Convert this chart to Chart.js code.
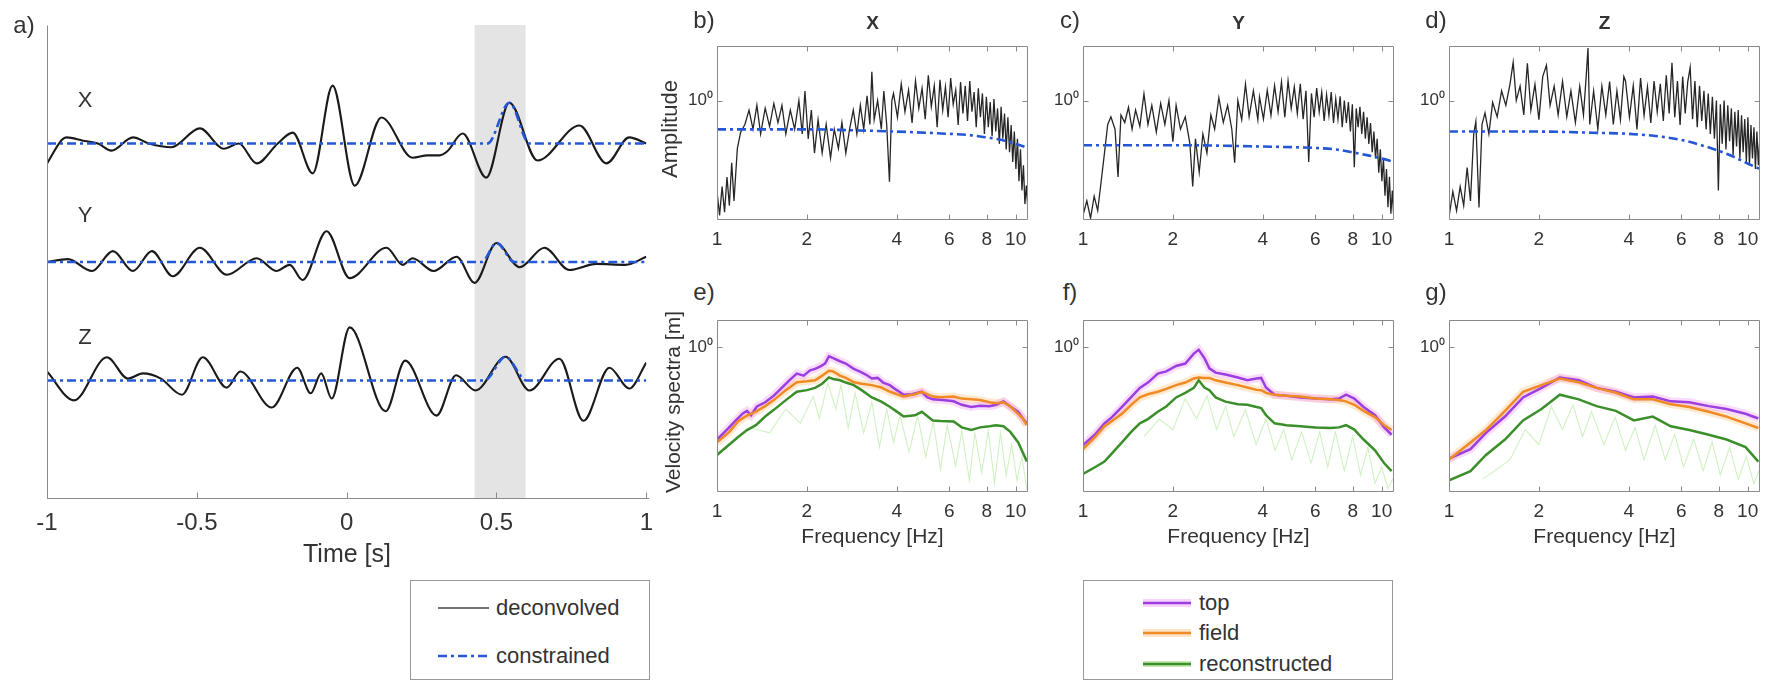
<!DOCTYPE html>
<html lang="en">
<head>
<meta charset="UTF-8">
<title>Deconvolved traces and spectra</title>
<script src="https://cdn.jsdelivr.net/npm/chart.js"></script>
<style>
  body { margin: 0; background: #fff; width: 1771px; height: 682px; position: relative; overflow: hidden;
         font-family: "Liberation Sans", Arial, Helvetica, sans-serif; color: #333; }
  canvas { position: absolute; }
  .lbl { position: absolute; white-space: nowrap; transform: translate(-50%, -50%); line-height: 1; }
  .legend { position: absolute; border: 1px solid #999; background: #fff; }
  .leg { position: absolute; transform: translateY(-50%); font-size: 22px; line-height: 1; white-space: nowrap; }
</style>
</head>
<body>

<div class="legend" style="left:410px;top:580px;width:238px;height:98px">
  <svg width="238" height="98" style="position:absolute;left:0;top:0">
    <line x1="27" y1="27" x2="78" y2="27" stroke="#444" stroke-width="1.5"/>
    <line x1="27" y1="75" x2="78" y2="75" stroke="#2457d6" stroke-width="2.6" stroke-dasharray="9 4 3 4"/>
  </svg>
  <span class="leg" style="left:85px;top:27px">deconvolved</span>
  <span class="leg" style="left:85px;top:75px">constrained</span>
</div>

<div class="legend" style="left:1083px;top:580px;width:308px;height:98px">
  <svg width="308" height="98" style="position:absolute;left:0;top:0">
    <line x1="59" y1="22" x2="107" y2="22" stroke="rgba(235,130,245,0.35)" stroke-width="8"/>
    <line x1="59" y1="22" x2="107" y2="22" stroke="#9b3fe0" stroke-width="2.5"/>
    <line x1="59" y1="52" x2="107" y2="52" stroke="rgba(255,175,90,0.35)" stroke-width="8"/>
    <line x1="59" y1="52" x2="107" y2="52" stroke="#f08a24" stroke-width="2.5"/>
    <line x1="59" y1="83" x2="107" y2="83" stroke="rgba(130,215,90,0.45)" stroke-width="6"/>
    <line x1="59" y1="83" x2="107" y2="83" stroke="#3b8f2a" stroke-width="2.5"/>
  </svg>
  <span class="leg" style="left:115px;top:22px">top</span>
  <span class="leg" style="left:115px;top:52px">field</span>
  <span class="leg" style="left:115px;top:83px">reconstructed</span>
</div>

<script>
// ---- panel a: time traces (amplitude relative to each trace's baseline) ----
const TIME_TICKS = [-1, -0.5, 0, 0.5, 1];
const BAND = [0.427, 0.597];
const X_BASE = 7.5, Y_BASE = 5.0, Z_BASE = 2.5;

const X_T = [-1, -0.95, -0.935, -0.88, -0.83, -0.785, -0.713, -0.66, -0.585, -0.49, -0.41, -0.36, -0.3, -0.23, -0.18, -0.113, -0.047, 0.027, 0.116, 0.22, 0.27, 0.31, 0.335, 0.387, 0.466, 0.543, 0.637, 0.777, 0.867, 0.943, 1];
const X_AMP = [-0.42, 0.08, 0.13, 0.06, 0, -0.15, 0.13, 0, -0.08, 0.32, -0.11, 0, -0.42, 0, 0.23, -0.63, 1.22, -0.89, 0.55, -0.3, -0.25, -0.25, -0.17, 0.21, -0.72, 0.86, -0.36, 0.38, -0.42, 0.13, 0];

const Y_T = [-1, -0.93, -0.85, -0.78, -0.713, -0.65, -0.58, -0.49, -0.4, -0.3, -0.235, -0.19, -0.147, -0.067, 0.01, 0.133, 0.187, 0.22, 0.29, 0.367, 0.427, 0.5, 0.577, 0.66, 0.743, 0.833, 0.93, 1];
const Y_AMP = [0, 0.06, -0.19, 0.23, -0.19, 0.23, -0.3, 0.3, -0.27, 0.08, -0.19, -0.06, -0.38, 0.65, -0.34, 0.3, -0.06, 0.08, -0.19, 0.11, -0.44, 0.4, -0.11, 0.3, -0.17, -0.04, -0.06, 0.11];

const Z_T = [-1, -0.91, -0.8, -0.73, -0.68, -0.62, -0.55, -0.48, -0.4, -0.355, -0.25, -0.165, -0.12, -0.085, -0.05, 0.01, 0.13, 0.195, 0.3, 0.365, 0.43, 0.53, 0.61, 0.71, 0.79, 0.877, 0.943, 1];
const Z_AMP = [0.19, -0.42, 0.49, 0.04, 0.15, 0.04, -0.3, 0.49, -0.15, 0.19, -0.57, 0.27, -0.27, 0.15, -0.38, 1.12, -0.65, 0.42, -0.74, 0.11, -0.21, 0.5, -0.21, 0.46, -0.85, 0.27, -0.17, 0.38];

const CX_T = [-1, 0.47, 0.543, 0.61, 1];
const CX_AMP = [0, 0, 0.86, 0, 0];
const CY_T = [-1, 0.45, 0.5, 0.56, 1];
const CY_AMP = [0, 0, 0.4, 0, 0];
const CZ_T = [-1, 0.46, 0.53, 0.6, 1];
const CZ_AMP = [0, 0, 0.5, 0, 0];

// ---- panels b-d: amplitude spectra ----
const FREQ_TICKS = [1, 2, 4, 6, 8, 10];
const TOP_RANGE = [0.202, 2.07];
const BOT_RANGE = [0.143, 1.43];

// low band (1 - 3.85 Hz)
const B_F_LO = [1, 1.02, 1.04, 1.06, 1.08, 1.1, 1.12, 1.14, 1.17, 1.2, 1.24, 1.28, 1.32, 1.36, 1.4, 1.45, 1.5, 1.55, 1.6, 1.65, 1.7, 1.76, 1.82, 1.88, 1.93, 1.97, 2.02, 2.07, 2.12, 2.18, 2.25, 2.32, 2.4, 2.47, 2.55, 2.62, 2.7, 2.78, 2.86, 2.94, 3.02, 3.1, 3.18, 3.25, 3.3, 3.36, 3.45, 3.55, 3.62, 3.7, 3.78, 3.85];
const B_AMP_LO = [0.296, 0.215, 0.316, 0.224, 0.359, 0.245, 0.435, 0.261, 0.527, 0.655, 0.726, 0.88, 0.681, 0.938, 0.639, 0.903, 0.708, 0.962, 0.745, 0.938, 0.639, 0.88, 0.681, 1.0, 0.639, 1.137, 0.599, 0.88, 0.495, 0.774, 0.495, 0.726, 0.464, 0.681, 0.527, 0.745, 0.495, 0.681, 0.88, 0.639, 0.938, 0.681, 1.066, 0.726, 1.468, 0.774, 1.0, 0.681, 1.137, 0.726, 0.337, 1.0];

const C_F_LO = [1, 1.03, 1.06, 1.09, 1.12, 1.15, 1.18, 1.21, 1.24, 1.28, 1.31, 1.34, 1.38, 1.42, 1.46, 1.5, 1.55, 1.6, 1.65, 1.7, 1.76, 1.82, 1.88, 1.94, 2, 2.05, 2.12, 2.2, 2.28, 2.33, 2.38, 2.45, 2.52, 2.6, 2.68, 2.76, 2.85, 2.95, 3.05, 3.15, 3.22, 3.3, 3.4, 3.5, 3.6, 3.72, 3.85];
const C_AMP_LO = [0.215, 0.261, 0.207, 0.278, 0.229, 0.337, 0.495, 0.726, 0.804, 0.681, 0.359, 0.825, 0.745, 0.914, 0.681, 0.88, 0.708, 1.094, 0.726, 0.938, 0.655, 0.962, 0.726, 1.0, 0.577, 0.938, 0.681, 0.804, 0.562, 0.316, 0.599, 0.383, 0.639, 0.495, 0.825, 0.681, 1.039, 0.745, 0.938, 0.681, 0.435, 1.0, 0.774, 1.243, 0.804, 1.137, 0.774];

const D_F_LO = [1, 1.03, 1.06, 1.09, 1.12, 1.15, 1.18, 1.21, 1.23, 1.26, 1.29, 1.32, 1.36, 1.4, 1.45, 1.5, 1.55, 1.6, 1.64, 1.68, 1.73, 1.78, 1.83, 1.88, 1.94, 2, 2.06, 2.12, 2.18, 2.25, 2.32, 2.4, 2.48, 2.56, 2.65, 2.74, 2.82, 2.88, 2.92, 2.96, 3.05, 3.15, 3.25, 3.35, 3.45, 3.55, 3.65, 3.75, 3.85];
const D_AMP_LO = [0.21, 0.296, 0.229, 0.316, 0.245, 0.408, 0.261, 0.639, 0.755, 0.239, 0.726, 0.847, 0.639, 0.975, 0.804, 1.137, 0.938, 1.243, 1.668, 1.0, 1.212, 0.825, 1.647, 0.88, 1.243, 0.774, 1.377, 1.605, 0.938, 1.212, 0.825, 1.291, 0.804, 1.137, 0.745, 1.212, 0.825, 1.377, 2.02, 0.726, 1.137, 0.681, 1.212, 0.825, 1.291, 0.726, 1.137, 0.774, 1.377];

// dense high band (3.9 - 11 Hz), shared frequency list
const HI_F = [3.9, 4.02, 4.14, 4.26, 4.38, 4.5, 4.62, 4.74, 4.86, 4.98, 5.1, 5.22, 5.34, 5.46, 5.58, 5.7, 5.82, 5.94, 6.06, 6.18, 6.3, 6.42, 6.54, 6.66, 6.78, 6.9, 7.02, 7.14, 7.26, 7.38, 7.5, 7.62, 7.74, 7.86, 7.98, 8.1, 8.22, 8.34, 8.46, 8.58, 8.7, 8.82, 8.94, 9.06, 9.18, 9.3, 9.42, 9.54, 9.66, 9.78, 9.9, 10.02, 10.14, 10.26, 10.38, 10.5, 10.62, 10.74, 10.86, 10.98];
const B_AMP_HI = [1.10, 0.80, 1.25, 0.86, 1.15, 0.74, 1.30, 0.90, 1.18, 0.78, 1.40, 0.92, 1.22, 0.70, 1.32, 0.88, 1.20, 0.80, 1.35, 0.95, 1.15, 0.72, 1.28, 0.84, 1.22, 0.76, 1.30, 0.86, 1.12, 0.70, 1.18, 0.80, 1.10, 0.64, 1.05, 0.70, 0.98, 0.62, 1.02, 0.66, 0.90, 0.56, 0.92, 0.60, 0.84, 0.52, 0.80, 0.50, 0.72, 0.44, 0.66, 0.40, 0.60, 0.34, 0.52, 0.30, 0.42, 0.25, 0.32, 0.24];
const C_AMP_HI = [1.05, 0.78, 1.15, 0.82, 1.22, 0.86, 1.28, 0.80, 1.30, 0.90, 1.20, 0.84, 1.25, 0.78, 1.14, 0.44, 1.10, 0.80, 1.18, 0.86, 1.12, 0.76, 1.08, 0.82, 1.12, 0.74, 1.02, 0.78, 1.06, 0.70, 1.00, 0.74, 0.98, 0.66, 0.95, 0.41, 0.90, 0.70, 0.92, 0.64, 0.86, 0.60, 0.80, 0.56, 0.74, 0.50, 0.66, 0.46, 0.60, 0.38, 0.52, 0.34, 0.46, 0.28, 0.40, 0.24, 0.36, 0.22, 0.30, 0.21];
const D_AMP_HI = [1.30, 0.80, 1.22, 0.68, 1.35, 0.82, 1.20, 0.74, 1.30, 0.86, 1.25, 0.76, 1.40, 0.84, 1.66, 0.80, 1.30, 0.72, 1.38, 0.84, 1.28, 1.56, 0.78, 1.30, 0.70, 1.22, 0.76, 1.14, 0.68, 1.10, 0.64, 1.05, 0.60, 1.00, 0.30, 0.95, 0.56, 1.00, 0.52, 0.94, 0.58, 0.90, 0.48, 0.86, 0.54, 0.88, 0.46, 0.82, 0.50, 0.78, 0.44, 0.80, 0.42, 0.72, 0.46, 0.70, 0.40, 0.66, 0.42, 0.60];

const CON_F_B = [1, 2, 3, 4, 5, 6, 7, 8, 9, 10, 11];
const B_CON = [0.68, 0.68, 0.67, 0.66, 0.65, 0.64, 0.63, 0.61, 0.59, 0.56, 0.53];
const CON_F_C = [1, 2, 4, 6, 7, 8, 9, 10, 11];
const C_CON = [0.55, 0.55, 0.54, 0.53, 0.52, 0.5, 0.48, 0.46, 0.44];
const CON_F_D = [1, 2, 3, 4, 5, 6, 7, 8, 9, 10, 11];
const D_CON = [0.66, 0.66, 0.65, 0.64, 0.62, 0.59, 0.55, 0.51, 0.47, 0.43, 0.40];

// ---- panels e-g: velocity spectra ----
const E_F1 = [1, 1.08, 1.15, 1.22, 1.26, 1.3, 1.36, 1.45, 1.55, 1.65, 1.75, 1.85, 1.95, 2.05, 2.13, 2.22, 2.3, 2.37, 2.45, 2.58, 2.7, 2.87, 3, 3.15, 3.3, 3.45, 3.6, 3.79, 4, 4.22, 4.5, 4.85, 5.05, 5.28, 5.7, 6.2, 6.6, 7.1, 7.6, 8.18, 8.6, 9.1, 9.6, 10.2, 10.6, 10.9];
const E_TOP = [0.289, 0.33, 0.37, 0.41, 0.424, 0.4, 0.45, 0.476, 0.52, 0.58, 0.64, 0.699, 0.68, 0.73, 0.745, 0.77, 0.8, 0.88, 0.86, 0.825, 0.8, 0.745, 0.72, 0.69, 0.655, 0.66, 0.62, 0.599, 0.56, 0.527, 0.53, 0.548, 0.51, 0.495, 0.49, 0.482, 0.46, 0.447, 0.455, 0.452, 0.46, 0.482, 0.45, 0.419, 0.38, 0.359];
const E_F2 = [1, 1.1, 1.18, 1.26, 1.35, 1.45, 1.55, 1.7, 1.85, 2, 2.13, 2.25, 2.37, 2.45, 2.58, 2.7, 2.87, 3.05, 3.3, 3.55, 3.8, 4, 4.22, 4.6, 4.85, 5.28, 5.6, 6.2, 6.6, 7.1, 7.6, 8.18, 8.6, 9.1, 9.6, 10.2, 10.6, 10.9];
const E_FIELD = [0.278, 0.32, 0.37, 0.398, 0.42, 0.452, 0.49, 0.56, 0.623, 0.63, 0.639, 0.68, 0.726, 0.72, 0.681, 0.66, 0.623, 0.61, 0.599, 0.58, 0.548, 0.53, 0.514, 0.53, 0.548, 0.514, 0.51, 0.514, 0.5, 0.495, 0.49, 0.476, 0.47, 0.476, 0.45, 0.408, 0.38, 0.35];
const E_REC = [0.235, 0.27, 0.3, 0.328, 0.35, 0.393, 0.43, 0.49, 0.548, 0.56, 0.577, 0.61, 0.664, 0.65, 0.639, 0.62, 0.599, 0.56, 0.508, 0.48, 0.447, 0.42, 0.393, 0.4, 0.419, 0.373, 0.37, 0.368, 0.34, 0.328, 0.34, 0.345, 0.35, 0.345, 0.32, 0.278, 0.24, 0.215];
const E_RAW_F = [1.3, 1.5, 1.7, 1.9, 2.1, 2.2, 2.35, 2.5, 2.6, 2.75, 2.9, 3.1, 3.3, 3.5, 3.7, 3.9, 4.1, 4.4, 4.7, 5, 5.3, 5.6, 5.9, 6.3, 6.6, 7, 7.3, 7.7, 8.1, 8.5, 8.9, 9.3, 9.7, 10.1, 10.5, 10.9];
const E_RAW = [0.337, 0.316, 0.435, 0.359, 0.514, 0.383, 0.615, 0.435, 0.599, 0.337, 0.541, 0.316, 0.476, 0.261, 0.435, 0.278, 0.398, 0.245, 0.398, 0.229, 0.368, 0.194, 0.35, 0.202, 0.324, 0.167, 0.316, 0.184, 0.324, 0.161, 0.316, 0.178, 0.271, 0.167, 0.229, 0.147];

const F_F = [1, 1.1, 1.18, 1.25, 1.35, 1.45, 1.55, 1.65, 1.78, 1.9, 2.05, 2.2, 2.35, 2.44, 2.55, 2.65, 2.78, 3, 3.3, 3.55, 3.81, 3.95, 4.1, 4.38, 4.8, 5.35, 6, 6.74, 7.2, 7.6, 8.1, 8.7, 9.5, 10.2, 10.8];
const F_TOP = [0.268, 0.31, 0.359, 0.39, 0.447, 0.51, 0.577, 0.62, 0.699, 0.72, 0.774, 0.8, 0.914, 0.962, 0.86, 0.75, 0.708, 0.69, 0.664, 0.64, 0.655, 0.66, 0.58, 0.527, 0.52, 0.508, 0.5, 0.495, 0.5, 0.527, 0.5, 0.447, 0.4, 0.34, 0.308];
const F_FIELD = [0.254, 0.3, 0.345, 0.37, 0.408, 0.46, 0.508, 0.53, 0.548, 0.57, 0.599, 0.62, 0.655, 0.664, 0.66, 0.66, 0.639, 0.62, 0.599, 0.58, 0.562, 0.56, 0.54, 0.527, 0.52, 0.514, 0.5, 0.495, 0.49, 0.482, 0.46, 0.424, 0.39, 0.35, 0.328];
const F_REC = [0.182, 0.2, 0.215, 0.24, 0.278, 0.32, 0.359, 0.38, 0.419, 0.45, 0.508, 0.54, 0.577, 0.639, 0.58, 0.56, 0.508, 0.48, 0.464, 0.46, 0.447, 0.44, 0.4, 0.359, 0.35, 0.345, 0.34, 0.337, 0.34, 0.35, 0.33, 0.289, 0.25, 0.21, 0.189];
const F_RAW_F = [1.6, 1.8, 2, 2.2, 2.4, 2.6, 2.8, 3, 3.2, 3.5, 3.8, 4.1, 4.4, 4.7, 5, 5.4, 5.8, 6.2, 6.6, 7, 7.5, 8, 8.5, 9, 9.5, 10, 10.5, 10.9];
const F_RAW = [0.3, 0.38, 0.33, 0.5, 0.38, 0.52, 0.33, 0.45, 0.3, 0.43, 0.27, 0.38, 0.25, 0.33, 0.22, 0.32, 0.21, 0.32, 0.2, 0.32, 0.19, 0.3, 0.18, 0.26, 0.16, 0.2, 0.15, 0.17];

const G_F = [1, 1.18, 1.33, 1.54, 1.77, 2.04, 2.35, 2.72, 3.12, 3.62, 4.16, 4.81, 5.53, 6.38, 7.41, 8.5, 9.84, 10.86];
const G_TOP = [0.224, 0.254, 0.316, 0.393, 0.508, 0.577, 0.664, 0.639, 0.577, 0.548, 0.508, 0.514, 0.482, 0.476, 0.452, 0.435, 0.408, 0.383];
const G_FIELD = [0.221, 0.278, 0.328, 0.424, 0.548, 0.599, 0.655, 0.623, 0.577, 0.541, 0.495, 0.495, 0.464, 0.447, 0.419, 0.393, 0.359, 0.337];
const G_REC = [0.167, 0.189, 0.235, 0.289, 0.373, 0.435, 0.527, 0.495, 0.452, 0.424, 0.373, 0.393, 0.345, 0.328, 0.308, 0.289, 0.261, 0.215];
const G_RAW_F = [1.3, 1.6, 1.8, 2, 2.2, 2.4, 2.6, 2.8, 3, 3.3, 3.6, 3.9, 4.2, 4.5, 4.9, 5.3, 5.7, 6.1, 6.6, 7.1, 7.6, 8.1, 8.7, 9.3, 9.9, 10.5, 10.9];
const G_RAW = [0.17, 0.22, 0.33, 0.27, 0.45, 0.33, 0.46, 0.3, 0.42, 0.27, 0.39, 0.25, 0.34, 0.22, 0.35, 0.22, 0.31, 0.2, 0.29, 0.19, 0.28, 0.18, 0.26, 0.17, 0.23, 0.16, 0.19];

// ---- styling ----
const FONT = '"Liberation Sans", Arial, Helvetica, sans-serif';
const TEXT = '#333';
const AXIS = '#8a8a8a';
const BLUE = '#2457d6';
const DASHDOT = [9, 4, 3, 4];

const pts = (xs, ys) => xs.map((x, i) => ({x, y: ys[i]}));
const trace = (xs, ys, base) => xs.map((x, i) => ({x, y: base + ys[i]}));

function ln(data, color, width, extra) {
  return Object.assign({data, borderColor: color, borderWidth: width, pointRadius: 0, fill: false, tension: 0}, extra || {});
}

function addCanvas(box, pad) {
  const c = document.createElement('canvas');
  const w = box.r - box.l + pad.l + pad.r;
  const h = box.b - box.t + pad.t + pad.b;
  c.width = w; c.height = h;
  c.style.left = (box.l - pad.l) + 'px';
  c.style.top = (box.t - pad.t) + 'px';
  c.style.width = w + 'px';
  c.style.height = h + 'px';
  document.body.appendChild(c);
  return c;
}

function text(str, x, y, size, extra) {
  const d = document.createElement('div');
  d.className = 'lbl';
  d.textContent = str;
  d.style.cssText = `left:${x}px;top:${y}px;font-size:${size}px;` + (extra || '');
  document.body.appendChild(d);
}

// axis frame with inward ticks, MATLAB style
const framePlugin = {
  id: 'frame',
  afterDatasetsDraw(chart, args, opts) {
    const {ctx, chartArea: a, scales: {x, y}} = chart;
    const L = opts.len || 5;
    const l = Math.round(a.left) + 0.5, r = Math.round(a.right) - 0.5;
    const t = Math.round(a.top) + 0.5, b = Math.round(a.bottom) - 0.5;
    ctx.save();
    ctx.strokeStyle = AXIS;
    ctx.lineWidth = 1;
    ctx.beginPath();
    ctx.moveTo(l, t); ctx.lineTo(l, b); ctx.lineTo(opts.box ? r : a.right + 3, b);
    if (opts.box) { ctx.moveTo(l, t); ctx.lineTo(r, t); ctx.lineTo(r, b); }
    x.ticks.forEach(tk => {
      const px = Math.round(x.getPixelForValue(tk.value)) + 0.5;
      ctx.moveTo(px, b); ctx.lineTo(px, b - L);
      if (opts.box) { ctx.moveTo(px, t); ctx.lineTo(px, t + L); }
    });
    if (opts.box) {
      y.ticks.forEach(tk => {
        const py = Math.round(y.getPixelForValue(tk.value)) + 0.5;
        ctx.moveTo(l, py); ctx.lineTo(l + L, py);
        ctx.moveTo(r, py); ctx.lineTo(r - L, py);
      });
    }
    ctx.stroke();
    ctx.restore();
  }
};

const bandPlugin = {
  id: 'band',
  beforeDatasetsDraw(chart, args, opts) {
    const {ctx, chartArea: a, scales: {x}} = chart;
    const x0 = x.getPixelForValue(opts.from), x1 = x.getPixelForValue(opts.to);
    ctx.save();
    ctx.fillStyle = opts.color;
    ctx.fillRect(x0, a.top, x1 - x0, a.bottom - a.top);
    ctx.restore();
  }
};

// ---- panel a ----
(function () {
  const box = {l: 47, t: 25, r: 647, b: 499};
  const pad = {l: 47, t: 4, r: 16, b: 44};
  const canvas = addCanvas(box, pad);
  const smooth = {cubicInterpolationMode: 'monotone'};
  const dash = Object.assign({borderDash: DASHDOT}, smooth);
  new Chart(canvas, {
    type: 'line',
    data: {
      datasets: [
        ln(trace(CX_T, CX_AMP, X_BASE), BLUE, 2.6, Object.assign({order: 1}, dash)),
        ln(trace(CY_T, CY_AMP, Y_BASE), BLUE, 2.6, Object.assign({order: 1}, dash)),
        ln(trace(CZ_T, CZ_AMP, Z_BASE), BLUE, 2.6, Object.assign({order: 1}, dash)),
        ln(trace(X_T, X_AMP, X_BASE), '#1a1a1a', 2.1, Object.assign({order: 2}, smooth)),
        ln(trace(Y_T, Y_AMP, Y_BASE), '#1a1a1a', 2.1, Object.assign({order: 2}, smooth)),
        ln(trace(Z_T, Z_AMP, Z_BASE), '#1a1a1a', 2.1, Object.assign({order: 2}, smooth))
      ]
    },
    options: {
      responsive: false, animation: false, events: [],
      layout: {padding: {left: 0, top: pad.t, right: pad.r, bottom: 0}},
      elements: {point: {radius: 0}},
      plugins: {
        legend: {display: false}, tooltip: {enabled: false},
        frame: {box: false, len: 6},
        band: {from: BAND[0], to: BAND[1], color: '#e4e4e4'}
      },
      scales: {
        x: {
          type: 'linear', min: -1, max: 1,
          afterBuildTicks: s => { s.ticks = TIME_TICKS.map(v => ({value: v})); },
          afterFit: s => { s.height = pad.b; },
          grid: {display: false, drawTicks: false}, border: {display: false},
          ticks: {autoSkip: false, maxRotation: 0, padding: 10, color: TEXT,
                  font: {family: FONT, size: 24}, callback: v => String(v)}
        },
        y: {
          min: 0, max: 10,
          afterFit: s => { s.width = pad.l; },
          grid: {display: false, drawTicks: false}, border: {display: false},
          ticks: {display: false}
        }
      }
    },
    plugins: [framePlugin, bandPlugin]
  });
})();

// ---- spectra panels ----
function spectrumPanel(box, yRange, datasets) {
  const pad = {l: 48, t: 6, r: 14, b: 34};
  const canvas = addCanvas(box, pad);
  return new Chart(canvas, {
    type: 'line',
    data: {datasets},
    options: {
      responsive: false, animation: false, events: [],
      layout: {padding: {left: 0, top: pad.t, right: pad.r, bottom: 0}},
      elements: {point: {radius: 0}},
      plugins: {legend: {display: false}, tooltip: {enabled: false}, frame: {box: true, len: 5}},
      scales: {
        x: {
          type: 'logarithmic', min: 1, max: 11,
          afterBuildTicks: s => { s.ticks = FREQ_TICKS.map(v => ({value: v})); },
          afterFit: s => { s.height = pad.b; },
          grid: {display: false, drawTicks: false}, border: {display: false},
          ticks: {autoSkip: false, maxRotation: 0, padding: 8, color: TEXT,
                  font: {family: FONT, size: 19}, callback: v => String(v)}
        },
        y: {
          type: 'logarithmic', min: yRange[0], max: yRange[1],
          afterBuildTicks: s => { s.ticks = [{value: 1}]; },
          afterFit: s => { s.width = pad.l; },
          grid: {display: false, drawTicks: false}, border: {display: false},
          ticks: {padding: 4, color: TEXT, font: {family: FONT, size: 17}, callback: () => '10\u2070'}
        }
      }
    },
    plugins: [framePlugin]
  });
}

const COLS = [717, 1083, 1449];
const W = 311;
const topBox = i => ({l: COLS[i], r: COLS[i] + W, t: 38, b: 220});
const botBox = i => ({l: COLS[i], r: COLS[i] + W, t: 312, b: 492});

function ampSets(fLo, aLo, aHi, cf, c) {
  return [
    ln(pts(fLo.concat(HI_F), aLo.concat(aHi)), 'rgba(0,0,0,0.85)', 1.3, {order: 2}),
    ln(pts(cf, c), BLUE, 2.6, {order: 1, borderDash: DASHDOT, cubicInterpolationMode: 'monotone'})
  ];
}

function velSets(rawF, raw, fTop, top, fField, field, fRec, rec) {
  return [
    ln(pts(rawF, raw), 'rgba(120,215,80,0.35)', 1.1, {order: 6}),
    ln(pts(fTop, top), 'rgba(235,130,245,0.28)', 8, {order: 5}),
    ln(pts(fField, field), 'rgba(255,175,90,0.28)', 8, {order: 5}),
    ln(pts(fRec, rec), '#3b8f2a', 2.5, {order: 3}),
    ln(pts(fTop, top), '#9b3fe0', 2.5, {order: 2}),
    ln(pts(fField, field), '#f08a24', 2.5, {order: 1})
  ];
}

spectrumPanel(topBox(0), TOP_RANGE, ampSets(B_F_LO, B_AMP_LO, B_AMP_HI, CON_F_B, B_CON));
spectrumPanel(topBox(1), TOP_RANGE, ampSets(C_F_LO, C_AMP_LO, C_AMP_HI, CON_F_C, C_CON));
spectrumPanel(topBox(2), TOP_RANGE, ampSets(D_F_LO, D_AMP_LO, D_AMP_HI, CON_F_D, D_CON));

spectrumPanel(botBox(0), BOT_RANGE, velSets(E_RAW_F, E_RAW, E_F1, E_TOP, E_F2, E_FIELD, E_F2, E_REC));
spectrumPanel(botBox(1), BOT_RANGE, velSets(F_RAW_F, F_RAW, F_F, F_TOP, F_F, F_FIELD, F_F, F_REC));
spectrumPanel(botBox(2), BOT_RANGE, velSets(G_RAW_F, G_RAW, G_F, G_TOP, G_F, G_FIELD, G_F, G_REC));

// ---- text ----
text('a)', 24, 25, 24);
text('X', 85, 100, 22);
text('Y', 85, 215, 22);
text('Z', 85, 337, 22);
text('Time [s]', 347, 553, 25);

['b)', 'c)', 'd)'].forEach((s, i) => text(s, COLS[i] - 13, 20, 24));
['e)', 'f)', 'g)'].forEach((s, i) => text(s, COLS[i] - 13, 292, 24));
['X', 'Y', 'Z'].forEach((s, i) => text(s, COLS[i] + W / 2, 22, 19, 'font-weight:bold'));
COLS.forEach(l => text('Frequency [Hz]', l + W / 2, 535, 21));
text('Amplitude', 670, 129, 22, 'transform:translate(-50%,-50%) rotate(-90deg)');
text('Velocity spectra [m]', 672, 402, 21, 'transform:translate(-50%,-50%) rotate(-90deg)');
</script>
</body>
</html>
